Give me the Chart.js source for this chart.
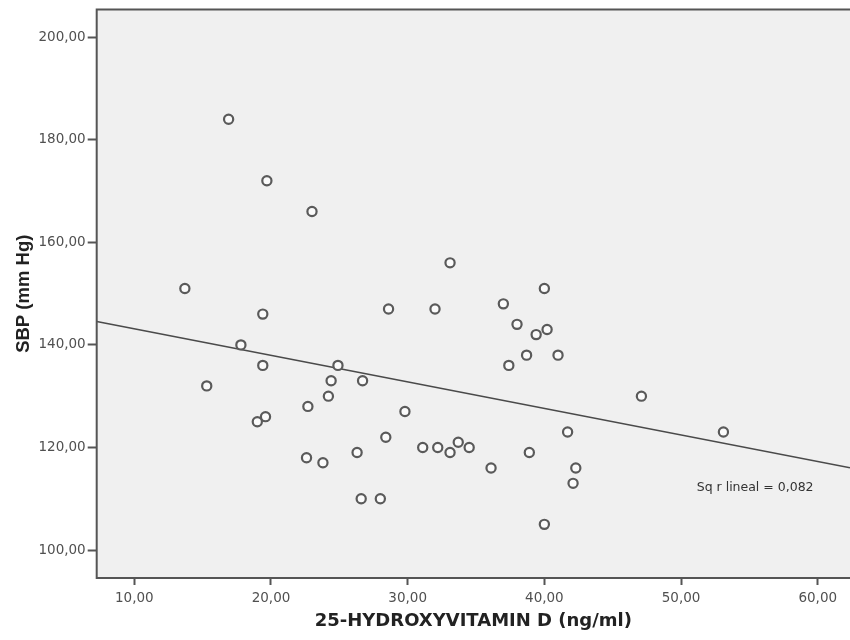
<!DOCTYPE html>
<html>
<head>
<meta charset="utf-8">
<script src="https://cdn.jsdelivr.net/npm/chart.js@4"></script>
<style>
  html, body { margin: 0; padding: 0; background: #fff; }
  #grafico { display: block; }
</style>
</head>
<body>
<canvas id="grafico" width="850" height="640"></canvas>
<script>
// vitamina D (ng/ml) x PAS (mm Hg)
const vitaminaD = [16.9, 19.7, 23.0, 13.7, 19.4, 17.8, 19.4, 15.3, 24.9, 24.4,
                   26.7, 24.2, 22.7, 19.6, 19.0, 26.3, 22.6, 23.8, 26.6, 28.0,
                   29.8, 28.4, 31.1, 32.2, 33.1, 33.7, 34.5, 36.1, 38.9, 33.1,
                   32.0, 28.6, 37.0, 40.0, 38.0, 39.4, 40.2, 38.7, 41.0, 37.4,
                   47.1, 53.1, 41.7, 42.3, 42.1, 40.0]
const pas = [184, 172, 166, 151, 146, 140, 136, 132, 136, 133,
             133, 130, 128, 126, 125, 119, 118, 117, 110, 110,
             127, 122, 120, 120, 119, 121, 120, 116, 119, 156,
             147, 147, 148, 151, 144, 142, 143, 138, 138, 136,
             130, 123, 123, 116, 113, 105]

const ticksX = [10, 20, 30, 40, 50, 60]
const ticksY = [100, 120, 140, 160, 180, 200]
const limitesX = [7.25, 62.36]
const limitesY = [94.54, 205.4]
const textoR2 = 'Sq r lineal = 0,082'

// reta de minimos quadrados
function ajusteLinear(xs, ys) {
    let mx = 0, my = 0
    xs.forEach((x, i) => { mx += x; my += ys[i] })
    mx = mx / xs.length
    my = my / ys.length
    let sxy = 0, sxx = 0
    xs.forEach((x, i) => {
        sxy += (x - mx) * (ys[i] - my)
        sxx += (x - mx) * (x - mx)
    })
    const b = sxy / sxx
    return { b: b, a: my - b * mx }
}

const reta = ajusteLinear(vitaminaD, pas)
const pontos = vitaminaD.map((x, i) => ({ x: x, y: pas[i] }))
const pontosReta = limitesX.map(x => ({ x: x, y: reta.a + reta.b * x }))

const formatar = v => v.toFixed(2).replace('.', ',')

const moldura = {
    id: 'moldura',
    beforeDatasetsDraw(chart) {
        const { ctx, chartArea: a } = chart
        ctx.save()
        ctx.fillStyle = '#f0f0f0'
        ctx.fillRect(a.left, a.top, a.right - a.left, a.bottom - a.top)
        ctx.restore()
    },
    afterDatasetsDraw(chart) {
        const { ctx, chartArea: a } = chart
        ctx.save()
        ctx.strokeStyle = '#555'
        ctx.lineWidth = 2
        ctx.beginPath()
        ctx.moveTo(a.right + 2, a.top)
        ctx.lineTo(a.left, a.top)
        ctx.lineTo(a.left, a.bottom)
        ctx.lineTo(a.right + 2, a.bottom)
        ctx.stroke()
        // rotulo do R2
        ctx.fillStyle = '#333'
        ctx.font = '12.5px "DejaVu Sans"'
        ctx.textBaseline = 'middle'
        ctx.fillText(textoR2, a.left + 600, a.top + 478)
        ctx.restore()
    }
}

new Chart(document.getElementById('grafico'), {
    type: 'scatter',
    data: {
        datasets: [{
            label: 'SBP',
            data: pontos,
            pointRadius: 4.6,
            pointHoverRadius: 4.6,
            borderWidth: 2.2,
            borderColor: '#5a5a5a',
            backgroundColor: '#fbfbfb'
        }, {
            label: 'ajuste',
            data: pontosReta,
            showLine: true,
            pointRadius: 0,
            borderWidth: 1.6,
            borderColor: '#4a4a4a',
            order: 1
        }]
    },
    options: {
        responsive: false,
        animation: false,
        devicePixelRatio: 1,
        layout: { autoPadding: false, padding: { top: 9.5, right: 0, left: 0, bottom: 0 } },
        plugins: {
            legend: { display: false },
            tooltip: { enabled: false }
        },
        scales: {
            x: {
                type: 'linear',
                min: limitesX[0],
                max: limitesX[1],
                afterBuildTicks: s => { s.ticks = ticksX.map(v => ({ value: v })) },
                afterFit: s => { s.height = 62; s.paddingRight = 0; s.paddingLeft = 0 },
                grid: { drawOnChartArea: false, drawTicks: true, tickLength: 7, tickColor: '#555', tickWidth: 2 },
                border: { display: false },
                ticks: {
                    callback: v => formatar(v),
                    color: '#505050',
                    padding: 5,
                    maxRotation: 0,
                    font: { family: 'DejaVu Sans', size: 13.5 }
                },
                title: {
                    display: true,
                    text: '25-HYDROXYVITAMIN D (ng/ml)',
                    color: '#222',
                    font: { family: 'DejaVu Sans', size: 18, weight: 'bold' },
                    padding: { top: 0, bottom: 8 }
                }
            },
            y: {
                type: 'linear',
                min: limitesY[0],
                max: limitesY[1],
                afterBuildTicks: s => { s.ticks = ticksY.map(v => ({ value: v })) },
                afterFit: s => { s.width = 96.7; s.paddingTop = 0; s.paddingBottom = 0 },
                grid: { drawOnChartArea: false, drawTicks: true, tickLength: 9, tickColor: '#555', tickWidth: 2 },
                border: { display: false },
                ticks: {
                    callback: v => formatar(v),
                    color: '#505050',
                    padding: 2,
                    font: { family: 'DejaVu Sans', size: 13.5 }
                },
                title: {
                    display: true,
                    text: 'SBP (mm Hg)',
                    color: '#222',
                    font: { family: 'Liberation Sans', size: 18.5, weight: 'bold' },
                    padding: { top: 13, bottom: 0 }
                }
            }
        }
    },
    plugins: [moldura]
})
</script>
</body>
</html>
